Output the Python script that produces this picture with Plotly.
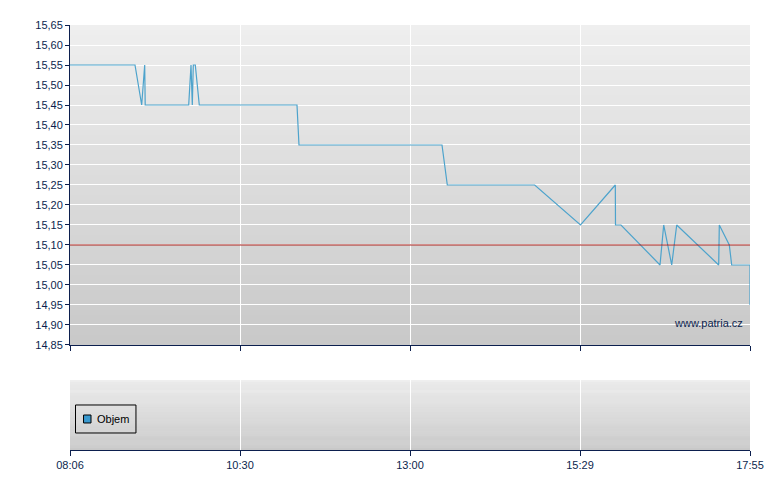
import pandas as pd
import plotly.graph_objects as go

# ---- data ----
price_times = ["08:06:00", "09:02:18", "09:08:06", "09:10:42", "09:11:08", "09:48:49",
               "09:50:49", "09:51:56", "09:52:48", "09:54:32", "09:57:59", "11:22:37",
               "11:24:21", "13:28:13", "13:32:49", "14:48:31", "15:28:11", "15:58:20",
               "15:58:30", "16:03:16", "16:37:03", "16:40:15", "16:47:11", "16:51:31",
               "17:27:53", "17:28:25", "17:37:04", "17:39:09", "17:55:00", "17:55:00"]
price_values = [15.55, 15.55, 15.45, 15.55, 15.45, 15.45,
                15.55, 15.45, 15.55, 15.55, 15.45, 15.45,
                15.35, 15.35, 15.25, 15.25, 15.15, 15.25,
                15.15, 15.15, 15.05, 15.15, 15.05, 15.15,
                15.05, 15.15, 15.10, 15.05, 15.05, 14.95]
reference_price = 15.10
volume_times = []
volume_values = []
x_tick_labels = ["08:06", "10:30", "13:00", "15:29", "17:55"]
session_start = "08:06:00"
session_end = "17:55:00"

DAY = "2024-01-01 "
px_times = pd.to_datetime([DAY + t for t in price_times])
vol_times = pd.to_datetime([DAY + t for t in volume_times])
t0 = pd.Timestamp(DAY + session_start)
t1 = pd.Timestamp(DAY + session_end)
n_ticks = len(x_tick_labels)
tick_vals = [t0 + (t1 - t0) * i / (n_ticks - 1) for i in range(n_ticks)]

NAVY = "#0c1f4e"
FONT = "Liberation Sans, Arial, sans-serif"

fig = go.Figure()
fig.add_trace(go.Scatter(x=px_times, y=price_values, mode="lines",
                         line=dict(color="#4da3cc", width=1.2),
                         showlegend=False, hoverinfo="x+y"))
fig.add_trace(go.Bar(x=vol_times, y=volume_values, name="Objem",
                     marker=dict(color="#3a9ad0", line=dict(color="black", width=1)),
                     xaxis="x2", yaxis="y2", showlegend=False))

# gradient backgrounds
shapes = []
N = 64
top_c, bot_c = 0xef, 0xc8
for xr, yr in (("x domain", "y domain"), ("x2 domain", "y2 domain")):
    for i in range(N):
        v = round(bot_c + (top_c - bot_c) * (i + 0.5) / N)
        col = "#%02x%02x%02x" % (v, v, v)
        shapes.append(dict(type="rect", xref=xr, yref=yr, x0=0, x1=1,
                           y0=i / N, y1=(i + 1) / N, fillcolor=col,
                           line=dict(width=0), layer="below"))

# reference line
shapes.append(dict(type="line", xref="x domain", yref="y", x0=0, x1=1,
                   y0=reference_price, y1=reference_price,
                   line=dict(color="#a8201a", width=1), layer="above"))

# manual legend box in volume panel
shapes.append(dict(type="rect", xref="x2 domain", yref="y2 domain",
                   x0=0.0081, x1=0.097, y0=0.243, y1=0.643,
                   line=dict(color="black", width=1), fillcolor="rgba(0,0,0,0)", layer="above"))
shapes.append(dict(type="rect", xref="x2 domain", yref="y2 domain",
                   x0=0.0199, x1=0.0309, y0=0.386, y1=0.5,
                   line=dict(color="black", width=1), fillcolor="#3a9ad0", layer="above"))

annotations = [
    dict(text="Objem", xref="x2 domain", yref="y2 domain", x=0.0365, y=0.443,
         xanchor="left", yanchor="middle", showarrow=False,
         font=dict(family=FONT, size=11, color="black")),
    dict(text="www.patria.cz", xref="x domain", yref="y domain", x=0.993, y=0.07,
         xanchor="right", yanchor="middle", showarrow=False,
         font=dict(family=FONT, size=11, color=NAVY)),
]

fig.update_layout(
    width=772, height=482,
    margin=dict(l=62, r=30, t=17, b=40),
    paper_bgcolor="white", plot_bgcolor="#dcdcdc",
    separators=",.",
    font=dict(family=FONT, size=11, color=NAVY),
    shapes=shapes, annotations=annotations,
    showlegend=False,
    xaxis=dict(domain=[0, 1], anchor="y", type="date", range=[t0, t1],
               tickvals=tick_vals, showticklabels=False,
               showgrid=True, gridcolor="white", gridwidth=1,
               ticks="outside", ticklen=5, tickcolor=NAVY,
               showline=True, linecolor=NAVY, linewidth=1, zeroline=False),
    yaxis=dict(domain=[0.2471, 1], anchor="x", range=[14.85, 15.65],
               tick0=14.85, dtick=0.05, tickformat=".2f",
               showgrid=True, gridcolor="white", gridwidth=1,
               ticks="outside", ticklen=4, tickcolor=NAVY,
               showline=True, linecolor=NAVY, linewidth=1, zeroline=False,
               tickfont=dict(family=FONT, size=11, color=NAVY)),
    xaxis2=dict(domain=[0, 1], anchor="y2", type="date", range=[t0, t1],
                tickvals=tick_vals, ticktext=x_tick_labels,
                showgrid=True, gridcolor="white", gridwidth=1,
                ticks="outside", ticklen=5, tickcolor=NAVY,
                showline=True, linecolor=NAVY, linewidth=1, zeroline=False,
                tickfont=dict(family=FONT, size=11, color=NAVY)),
    yaxis2=dict(domain=[0, 0.1647], anchor="x2", range=[0, 1],
                showgrid=False, showticklabels=False, zeroline=False,
                showline=False, ticks=""),
)

fig.write_html("out.html")
